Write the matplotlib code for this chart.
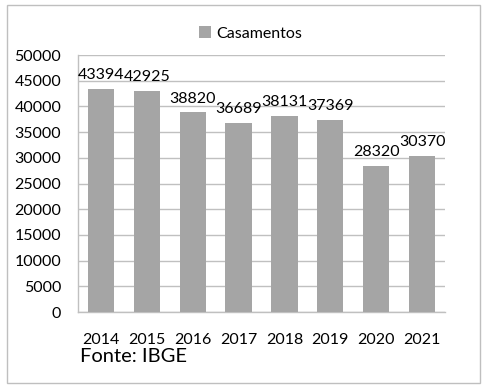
import matplotlib
matplotlib.use("Agg")
import matplotlib.pyplot as plt
from matplotlib.patches import Rectangle

years = ["2014", "2015", "2016", "2017", "2018", "2019", "2020", "2021"]
casamentos = [43394, 42925, 38820, 36689, 38131, 37369, 28320, 30370]
y_ticks = list(range(0, 50001, 5000))

plt.rcParams['font.family'] = ['Lato', 'DejaVu Sans']

fig = plt.figure(figsize=(4.91, 3.86), dpi=100)
ax = fig.add_axes([0.1589, 0.1917, 0.7474, 0.6658])

bars = ax.bar(years, casamentos, width=0.57, color="#a5a5a5", label="Casamentos", zorder=3)
for b, v in zip(bars, casamentos):
    ax.annotate(str(v), (b.get_x() + b.get_width() / 2, v), xytext=(0, 5),
                textcoords="offset points", ha="center", va="bottom",
                fontsize=11.5, color="#000000", zorder=4)

ax.set_ylim(0, 50000)
ax.set_xlim(-0.5, len(years) - 0.5)
ax.set_yticks(y_ticks)
ax.set_yticklabels([str(t) for t in y_ticks])
ax.tick_params(axis="both", length=0, labelsize=11.5)
ax.tick_params(axis="y", pad=12)
ax.tick_params(axis="x", pad=15)
ax.grid(axis="y", color="#c0c0c0", linewidth=1, zorder=0)
for s in ["top", "right"]:
    ax.spines[s].set_visible(False)
for s in ["left", "bottom"]:
    ax.spines[s].set_color("#c0c0c0")
    ax.spines[s].set_linewidth(1)

fig.legend(handles=[bars], labels=["Casamentos"], loc="center", bbox_to_anchor=(0.51, 0.914),
           frameon=False, fontsize=11.5, handlelength=0.8, handleheight=0.8, handletextpad=0.3)

fig.text(80 / 491, 1 - 357 / 386, "Fonte: IBGE", fontsize=14.5, ha="left", va="center")

fig.patches.append(Rectangle((7 / 491, 1 - 383 / 386), 473 / 491, 378 / 386,
                             transform=fig.transFigure, fill=False,
                             edgecolor="#bfbfbf", linewidth=1))

fig.savefig("out.png", dpi=100)
